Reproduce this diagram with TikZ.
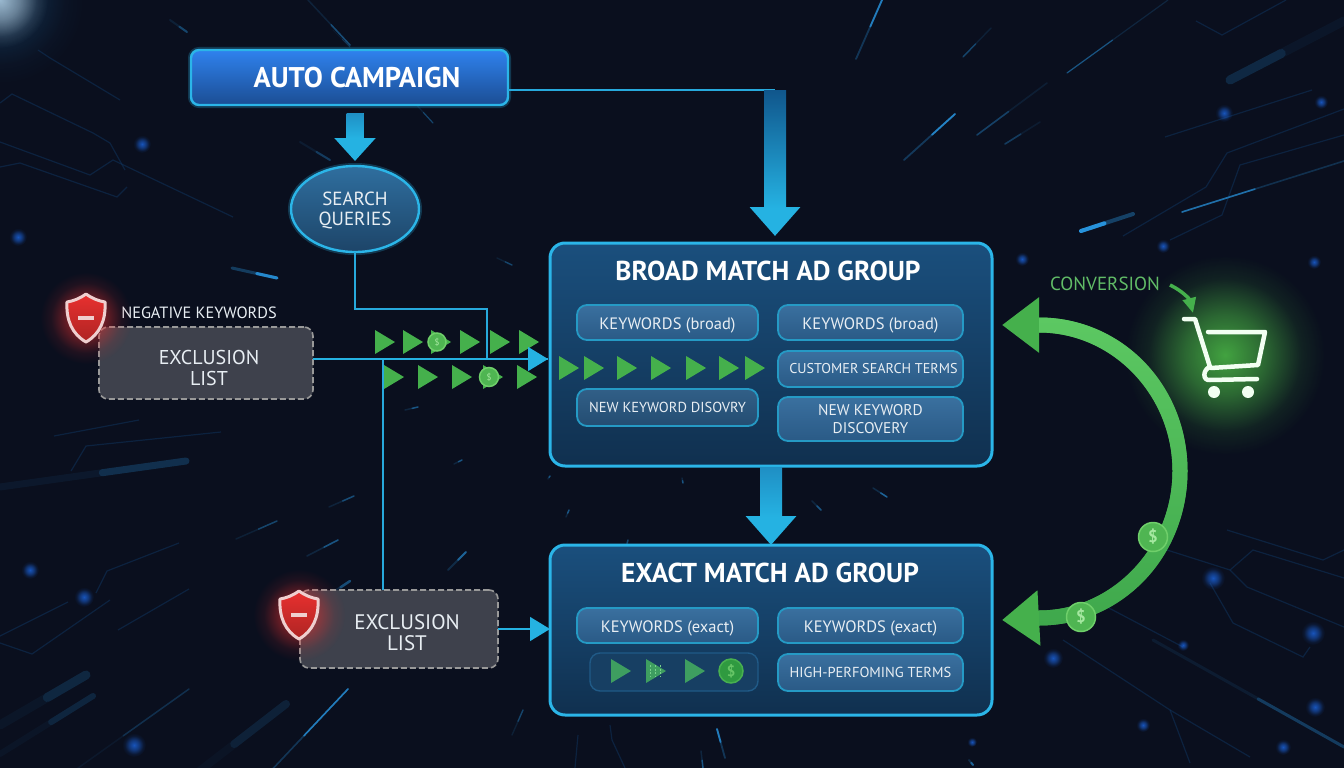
\documentclass[tikz,border=0pt]{standalone}
\usepackage{fontspec}
\setmainfont{PT Sans}
\usepackage{tikz}
\usetikzlibrary{positioning,shapes.geometric,arrows.meta,calc,fadings}
\definecolor{bgnavy}{HTML}{0A0F1E}
\definecolor{wireblue}{HTML}{27A9DC}
\definecolor{rimblue}{HTML}{2BB5E8}
\definecolor{arrowblue}{HTML}{25B2E2}
\definecolor{playgreen}{HTML}{45B04C}
\definecolor{textwhite}{HTML}{E8EEF3}
\definecolor{streakblue}{HTML}{2A9BE8}
\definecolor{traceblue}{HTML}{0F3560}
\definecolor{shieldred}{HTML}{E8302F}
\definecolor{shieldrim}{HTML}{EFCFCF}
\definecolor{coinfill}{HTML}{4FB552}
\definecolor{coinrim}{HTML}{6FCF6A}
\definecolor{cointext}{HTML}{A5E8A0}
\definecolor{grouptop}{HTML}{1A4F7D}
\definecolor{groupbot}{HTML}{10304F}
\definecolor{keytop}{HTML}{3A709F}
\definecolor{keybot}{HTML}{2A5A86}
\definecolor{autotop}{HTML}{2F82EE}
\definecolor{autobot}{HTML}{1B4D93}
\definecolor{searchtop}{HTML}{2F6F9F}
\definecolor{searchbot}{HTML}{1D4468}
\definecolor{striprim}{HTML}{205A87}
\definecolor{stripfill}{HTML}{173F63}
\definecolor{striptri}{HTML}{3E9E60}
\definecolor{stripdash}{HTML}{78D28C}
\definecolor{coindark}{HTML}{2F9A40}
\definecolor{coinring}{HTML}{48B050}
\definecolor{coinsign}{HTML}{66C566}
\definecolor{shafttop}{HTML}{10568C}
\definecolor{shaftmid}{HTML}{1F8FC4}
\definecolor{glowgreen}{HTML}{55D44C}
\definecolor{ringtop}{HTML}{5CC862}
\definecolor{ringbot}{HTML}{3FA84C}
\definecolor{exclgrey}{HTML}{3E414C}
\pgfdeclareradialshading{softglowshade}{\pgfpoint{0bp}{0bp}}{color(0bp)=(white!75!black); color(10bp)=(white!45!black); color(19bp)=(white!10!black); color(25bp)=(black); color(50bp)=(black)}
\pgfdeclarefading{softglow}{\pgfuseshading{softglowshade}}
\tikzset{
  shieldicon/.pic={
    \fill[shieldred,path fading=softglow] (0,0) circle (46pt);
    \draw[draw=shieldrim,line width=3pt,top color=shieldred,bottom color=shieldred!75!black,line join=round]
      (0,-24) .. controls (-7,-19) and (-13,-17) .. (-19,-16) .. controls (-20,2) and (-14,16) .. (0,24)
      .. controls (14,16) and (20,2) .. (19,-16) .. controls (13,-17) and (7,-19) .. (0,-24) -- cycle;
    \fill[shieldrim] (-8,-2) rectangle (8,2);
  }
}
\begin{document}
\begin{tikzpicture}[x=1pt,y=-1pt]
\tikzstyle{wire}=[draw=wireblue,line width=1.4pt]
\tikzstyle{groupbox}=[draw=rimblue,line width=3pt,rounded corners=15pt,top color=grouptop,bottom color=groupbot,inner sep=0pt,outer sep=0pt,minimum width=442pt]
\tikzstyle{keybox}=[draw=rimblue!85!black,line width=1.8pt,rounded corners=10pt,top color=keytop,bottom color=keybot,text=textwhite,font=\fontsize{16.5}{19}\selectfont,align=center,inner sep=0pt,outer sep=0pt]
\tikzstyle{kwline}=[text height=16.5pt,text depth=3pt]
\tikzstyle{exclbox}=[draw=gray!80!white,dash pattern=on 6pt off 3pt,line width=1.6pt,rounded corners=9pt,fill=exclgrey,text=textwhite,font=\fontsize{20}{20.5}\selectfont,align=center,inner sep=0pt,outer sep=0pt]
\tikzstyle{bigarrow}=[draw=arrowblue,line width=22pt,-{Triangle[width=49pt,length=29pt]},arrowblue]
\tikzstyle{coinicon}=[circle,draw=coinrim,line width=1.5pt,fill=coinfill,text=cointext,inner sep=0pt]
\useasboundingbox (0,0) rectangle (1344,768);
\begin{scope}
\clip (0,0) rectangle (1344,768);
\fill[bgnavy] (0,0) rectangle (1344,768);
\fill[white,path fading=softglow] (0,0) circle (48pt);
\fill[streakblue,opacity=.35,path fading=softglow] (0,0) circle (85pt);
\foreach \pts in {
  {(0,103) -- (12,94) -- (93,133) -- (110,143) -- (125,170)},
  {(0,142) -- (90,175) -- (113,160) -- (233,217)},
  {(0,167) -- (20,163) -- (117,197) -- (127,187)},
  {(38,50) -- (50,58) -- (120,100)},
  {(54,436) -- (139,420)},{(71,471) -- (86,446) -- (221,432)},
  {(0,643) -- (32,654) -- (110,600)},{(0,636) -- (68,602)},
  {(118,630) -- (189,589)},{(96,593) -- (107,571) -- (179,543)},
  {(1196,21) -- (1222,35) -- (1286,0)},{(1312,90) -- (1165,137)},
  {(1344,109) -- (1227,153) -- (1206,187) -- (1123,236)},
  {(1344,135) -- (1240,165) -- (1222,215) -- (1170,240)},
  {(1107,607) -- (1183,647)},{(1063,640) -- (1170,710) -- (1190,763)},
  {(1170,710) -- (1250,757)},{(1227,530) -- (1323,560) -- (1344,550)},
  {(1167,550) -- (1230,570) -- (1253,550) -- (1344,578)},
  {(1230,570) -- (1247,587) -- (1344,627)},
  {(1210,583) -- (1233,623) -- (1303,657) -- (1310,647)},
  {(575,768) -- (578,735)},{(625,768) -- (612,740) -- (610,725)}}
  \draw[traceblue,line width=1.2pt,opacity=.5] \pts;
\foreach \xa/\ya/\xb/\yb/\w/\o in {
  0/487/186/461/7/.18, 0/725/86/675/9/.13, 0/754/93/696/6/.12, 43/793/189/689/1.5/.18,
  171/793/286/704/8/.1, 250/793/348/689/1.6/.7, 1344/21/1230/80/9/.14,
  1153/640/1344/747/3/.25, 1344/161/1182/212/1.6/.6,
  329/507/354/496/1.5/.35, 236/539/277/521/1.5/.3, 307/556/338/540/1.6/.4, 329/595/350/581/2.5/.35,
  448/570/466/552/1.8/.5, 454/464/462/460/1.5/.4, 405/410/418/407/1.5/.4,
  856/59/882/0/1.8/.7, 904/160/955/114/1.8/.75, 1133/214/1081/231/4/.9, 1168/0/1067/73/1.2/.4,
  1047/83/977/135/1.6/.28, 1040/122/1005/144/1.6/.25, 991/28/963/57/1.4/.3,
  232/268/277/278/3/.8, 170/20/187/32/2/.3, 308/0/350/45/1.5/.35, 333/30/350/47/1/.2,
  412/100/433/123/1.2/.3, 300/142/330/160/2/.25, 497/258/512/265/1.4/.3,
  873/488/887/497/1.5/.5, 812/501/821/510/1.5/.4, 566/517/569/510/1.5/.4, 548/479/550/476/1.5/.4,
  682/478/683/483/1.5/.4, 626/547/628/540/1.5/.3, 512/735/523/710/1.4/.3, 725/758/717/729/1.8/.7,
  701/751/703/768/1.5/.4, 969/760/973/765/2/.5}
  {
  \draw[streakblue,line width=\w pt,opacity=.4*\o,line cap=round] (\xa,\ya) -- (\xb,\yb);
  \draw[streakblue,line width=\w pt,opacity=\o,line cap=round] ($(\xa,\ya)!.55!(\xb,\yb)$) -- (\xb,\yb);
  }
\foreach \xa/\ya/\r in {18/237/9, 142/144/9, 30/570/9, 84/597/10, 134/745/12, 1321/102/7, 1224/113/9, 1163/246/7,
  1314/262/7, 1022/259/7, 1213/578/12, 1313/633/12, 1143/725/7, 1283/747/8, 1053/658/10, 972/742/5, 1183/645/6, 1315/707/10}
  \fill[streakblue!70!blue,path fading=softglow] (\xa,\ya) circle (\r pt);
\end{scope}

\node[draw=rimblue,line width=2.4pt,rounded corners=8pt,top color=autotop,bottom color=autobot,text=white,font=\bfseries\fontsize{28.5}{32}\selectfont,minimum width=317pt,minimum height=55pt,inner sep=0pt,outer sep=0pt,preaction={draw=rimblue,line width=6pt,opacity=.25}] (auto) at (349.5,77.5) {\hspace*{15pt}AUTO CAMPAIGN};
\node[ellipse,draw=rimblue,line width=2.4pt,top color=searchtop,bottom color=searchbot,text=textwhite,font=\fontsize{19}{20}\selectfont,align=center,minimum width=128pt,minimum height=86pt,inner sep=0pt,outer sep=0pt,preaction={draw=rimblue,line width=6pt,opacity=.25}] (search) at (355,209) {\rule{0pt}{17pt}SEARCH\\QUERIES};
\node[exclbox,minimum width=214pt,minimum height=72pt] (excl1) at (206,363) {\rule{0pt}{24pt}\hspace*{6pt}EXCLUSION\\\hspace*{6pt}LIST};
\node[exclbox,minimum width=198pt,minimum height=78pt,font=\fontsize{21}{21}\selectfont] (excl2) at (399,629) {\rule{0pt}{23pt}\hspace*{16pt}EXCLUSION\\\hspace*{16pt}LIST};
\node[text=textwhite,font=\fontsize{16.3}{18}\selectfont] (neglabel) at (199,313) {NEGATIVE KEYWORDS};
\pic at (86,318) {shieldicon};
\pic at (299,615) {shieldicon};

\node[groupbox,minimum height=223pt] (broad) at (771,354.5) {};
\node[groupbox,minimum height=170pt] (exact) at (771,630) {};
\node[text=white,font=\bfseries\fontsize{27.3}{31}\selectfont] (broadtitle) at (768,270.5) {BROAD MATCH AD GROUP};
\node[text=white,font=\bfseries\fontsize{27.3}{31}\selectfont] (exacttitle) at (770,572.5) {EXACT MATCH AD GROUP};
\node[keybox,kwline,minimum width=181pt,minimum height=35pt] (kwa) at (667.5,322.5) {KEYWORDS (broad)};
\node[keybox,kwline,minimum width=185pt,minimum height=35pt] (kwb) at (870.5,322.5) {KEYWORDS (broad)};
\node[keybox,minimum width=185pt,minimum height=36pt,font=\fontsize{14.2}{17}\selectfont] (custterms) at (870.5,369) {\hspace*{6pt}CUSTOMER SEARCH TERMS};
\node[keybox,minimum width=181pt,minimum height=37pt,font=\fontsize{14.5}{17}\selectfont,top color=keytop!85!black,bottom color=keybot!85!black] (newkwa) at (667.5,407.5) {NEW KEYWORD DISOVRY};
\node[keybox,minimum width=185pt,minimum height=44pt,font=\fontsize{15.5}{17.5}\selectfont] (newkwb) at (870.5,419) {NEW KEYWORD\\DISCOVERY};
\node[keybox,kwline,minimum width=181pt,minimum height=35pt] (kwc) at (667.5,625.5) {KEYWORDS (exact)};
\node[keybox,kwline,minimum width=185pt,minimum height=35pt] (kwd) at (870.5,625.5) {KEYWORDS (exact)};
\node[keybox,minimum width=185pt,minimum height=37pt,font=\fontsize{14.5}{17}\selectfont] (highterms) at (870.5,672.5) {HIGH-PERFOMING TERMS};
\node[draw=striprim,line width=1.4pt,rounded corners=10pt,fill=stripfill,inner sep=0pt,minimum width=168pt,minimum height=38pt] (strip) at (674,672) {};

\coordinate (jnc) at (775,90);
\coordinate (brtop) at (775,236);
\coordinate (bendq) at (487,309);
\coordinate (brin) at (548,359);
\coordinate (vtop) at (383,359);
\draw[wire] (auto.east |- jnc) to (jnc);
\draw[wire] (search.south) |- (bendq) to (bendq |- brin);
\draw[wire] (excl2.north -| vtop) to (vtop);
\draw[wire] (excl1.east |- brin) to (brin);

\foreach \xa/\ya in {375/342,403/342,431/342,460/342,490/342,519/342,384/377,418/377,452/377,483/377,517/377,
  559/368,584/368,617/368,651/368,686/368,719/368,745/368}
  \fill[playgreen] (\xa,\ya-12) -- (\xa+20,\ya) -- (\xa,\ya+12) -- cycle;
\foreach \xa/\ya in {611/671,646/671,685/671}
  \fill[striptri] (\xa,\ya-12) -- (\xa+20,\ya) -- (\xa,\ya+12) -- cycle;
\foreach \xa in {650,655,660}
  \draw[stripdash,line width=1pt,dash pattern=on 2pt off 1.5pt] (\xa,665) -- (\xa,677);
\node[coinicon,minimum size=18pt,font=\fontsize{9}{9}\selectfont] (coinr) at (437,342) {\$};
\node[coinicon,minimum size=19pt,font=\fontsize{9}{9}\selectfont] (coins) at (489,377) {\$};
\node[coinicon,minimum size=24pt,draw=coinring,fill=coindark,text=coinsign,font=\bfseries\fontsize{15}{15}\selectfont] (coint) at (731,671) {\$};
\draw[wire,-{Triangle[width=24pt,length=20pt]},arrowblue] (excl1.east |- brin) to (brin);
\draw[wire,-{Triangle[width=24pt,length=20pt]},arrowblue] (excl2.east) to (exact.west |- excl2);

\draw[bigarrow] (jnc) to (brtop);
\shade[top color=shafttop,bottom color=arrowblue] (764,90) rectangle (786,208);
\draw[bigarrow] (broad.south -| exact.north) to (exact.north);
\shade[top color=shaftmid,bottom color=arrowblue] (760,467) rectangle (782,517);
\draw[bigarrow,line width=17pt,-{Triangle[width=40pt,length=23pt]},shorten >=5pt] (auto.south -| search.north) ++(0,8) to (search.north);
\shade[top color=shaftmid,bottom color=arrowblue] (346.5,113) rectangle (363.5,138);

\node[text=playgreen!85!white,font=\fontsize{19}{22}\selectfont] (conv) at (1105,284) {CONVERSION};
\coordinate (carthead) at (1193,313);
\coordinate (ringa) at (1002,325);
\coordinate (ringb) at (1002,620);
\fill[glowgreen,path fading=softglow] (1225,355) circle (100pt);
\draw[playgreen,line width=3.5pt,-{Triangle[width=13pt,length=15pt]}] (1170,285) to[bend left=25] (carthead);
\draw[line width=4.5pt,white!95!green,line cap=round,line join=round] (1184,319) -- (1195,319) -- (1210,367) .. controls (1203,369) and (1202,381) .. (1210,380) -- (1257,379);
\draw[line width=4.5pt,white!95!green,line cap=round,line join=round] (1208,332) -- (1265,332) -- (1258,365) -- (1211,368);
\fill[white!95!green] (1214,392) circle (6pt) (1248,392) circle (6pt);

\draw[playgreen,line width=15pt,{Triangle[width=53pt,length=37pt]}-{Triangle[width=53pt,length=37pt]}] (ringa) -- (1039,325) .. controls (1117,325) and (1180,390) .. (1180,471) .. controls (1180,552) and (1117,618) .. (1039,618) -- (ringb);
\shade[top color=ringtop,bottom color=ringbot] (1039,317.5) .. controls (1122,317.5) and (1187.5,385) .. (1187.5,471) .. controls (1187.5,557) and (1122,625.5) .. (1039,625.5) -- (1039,610.5) .. controls (1112,610.5) and (1172.5,547) .. (1172.5,471) .. controls (1172.5,395) and (1112,332.5) .. (1039,332.5) -- cycle;
\node[coinicon,minimum size=29pt,font=\bfseries\fontsize{17}{17}\selectfont] (coinu) at (1153,537) {\$};
\node[coinicon,minimum size=29pt,font=\bfseries\fontsize{17}{17}\selectfont] (coinl) at (1081,617) {\$};
\end{tikzpicture}
\end{document}
